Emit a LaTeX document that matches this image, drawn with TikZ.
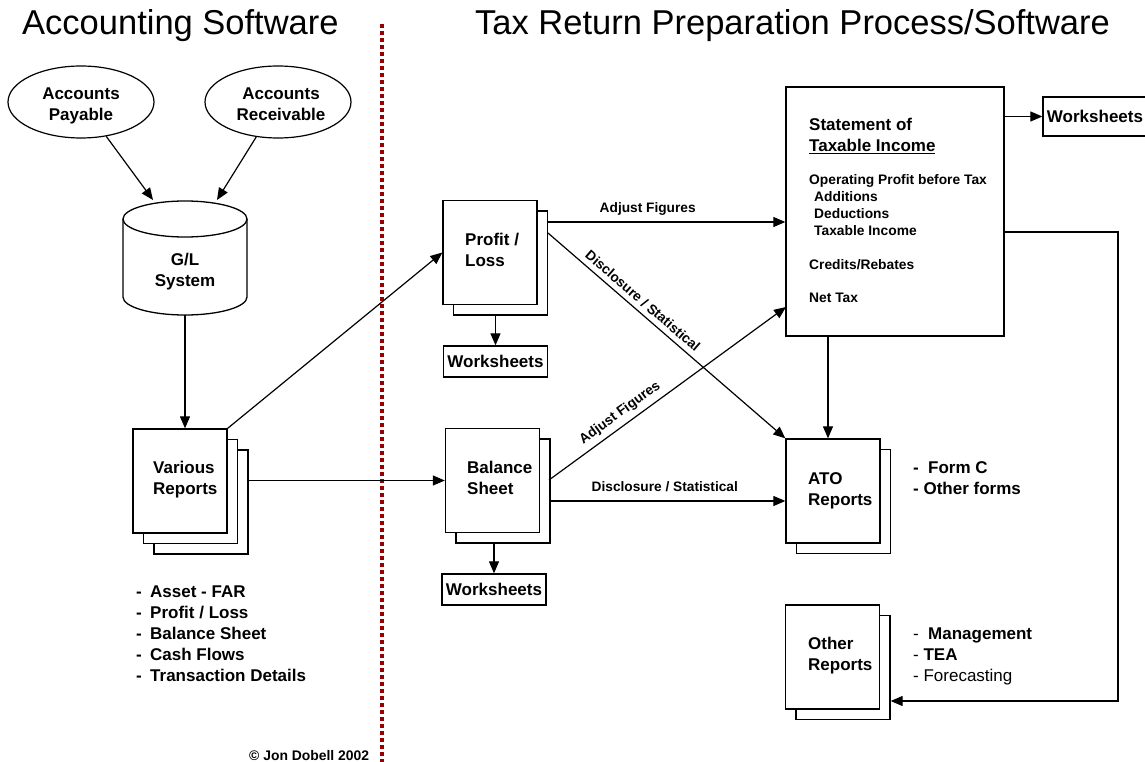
\documentclass[tikz,border=0pt]{standalone}
\usepackage{fontspec}
\setmainfont{Liberation Sans}
\usetikzlibrary{arrows.meta,shapes.geometric}
\definecolor{divred}{RGB}{150,0,0}
\begin{document}
\begin{tikzpicture}[x=1pt,y=-1pt,
  every node/.style={inner sep=0pt},
  page/.style={draw, fill=white, line width=1.3pt, minimum width=94pt, minimum height=104pt},
  wsbox/.style={draw, fill=white, line width=1.3pt, minimum width=104pt, minimum height=31pt, font=\fontsize{17}{20}\selectfont\bfseries},
  conn/.style={line width=1.2pt},
  arr/.style={conn, -{Triangle[length=12pt,width=10pt]}},
  lbl/.style={font=\fontsize{13.7}{16}\selectfont\bfseries},
  ptxt/.style={font=\fontsize{17}{21}\selectfont\bfseries, align=left, anchor=base west},
  oval/.style={draw, ellipse, line width=1.2pt, minimum width=146pt, minimum height=72pt},
  title/.style={font=\fontsize{34.5}{40}\selectfont, anchor=base west},
]
\useasboundingbox (0,0) rectangle (1145,762);

% titles
\node[title] (t1) at (22,35) {Accounting Software};
\node[title] (t2) at (475,35) {Tax Return Preparation Process/Software};

% divider
\draw[line width=4.6pt, divred, dash pattern=on 4pt off 3pt] (382,24) -- (382,762);

% ellipses
\node[oval] (ap) at (81,102) {};
\node[oval] (ar) at (278,102) {};
\node[font=\fontsize{17}{21}\selectfont\bfseries, align=center, anchor=base] (apT) at (81,121) {Accounts\\Payable};
\node[font=\fontsize{17}{21}\selectfont\bfseries, align=center, anchor=base] (arT) at (281,121) {Accounts\\Receivable};

% cylinder
\draw[line width=1.3pt, fill=white] (123,219) -- (123,297) arc[start angle=180, end angle=360, x radius=62pt, y radius=18pt] -- (247,219);
\draw[line width=1.3pt, fill=white] (185,219) ellipse [x radius=62pt, y radius=18pt];
\node[font=\fontsize{17}{21}\selectfont\bfseries, align=center, anchor=base] (gl) at (185,286) {G/L\\System};
\coordinate (glA) at (153,200);
\coordinate (glB) at (217,200);
\coordinate (glbot) at (185,315);

% various reports
\node[page] (vr3) at (201,502) {};
\node[page] (vr2) at (190.5,491.5) {};
\node[page] (vr1) at (180,481) {};
\node[ptxt] (vrT) at (153,494) {Various\\Reports};

\node[ptxt] (vrL) at (136,681) {\makebox[14pt][l]{-}Asset - FAR\\\makebox[14pt][l]{-}Profit / Loss\\\makebox[14pt][l]{-}Balance Sheet\\\makebox[14pt][l]{-}Cash Flows\\\makebox[14pt][l]{-}Transaction Details};
\node[anchor=base west, font=\fontsize{13.9}{16}\selectfont\bfseries] (cr) at (249,760) {© Jon Dobell 2002};

% profit / loss
\node[page] (plb) at (500.5,263) {};
\node[page] (pl) at (490,252.5) {};
\node[ptxt] (plT) at (465,266) {Profit /\\Loss};
\node[wsbox] (ws1) at (495.5,361.5) {Worksheets};

% balance sheet
\node[page] (bsb) at (503,491) {};
\node[page] (bs) at (492.5,480.5) {};
\node[ptxt] (bsT) at (467,494) {Balance\\Sheet};
\node[wsbox] (ws2) at (494,589.5) {Worksheets};

% statement
\node[draw, fill=white, line width=1.3pt, minimum width=218pt, minimum height=249pt] (stmt) at (895,211.5) {};
\node[ptxt] (stT) at (809,152) {Statement of\\\underline{Taxable Income}};
\node[font=\fontsize{13.8}{16.7}\selectfont\bfseries, align=left, anchor=base west] (stL) at (809,302)
  {Operating Profit before Tax\\\hspace*{5pt}Additions\\\hspace*{5pt}Deductions\\\hspace*{5pt}Taxable Income\\[17.3pt]Credits/Rebates\\[16.3pt]Net Tax};
\node[wsbox, minimum height=39pt] (ws3) at (1095,116.5) {Worksheets};

% ATO reports
\node[page] (atob) at (843.5,501.5) {};
\node[page] (ato) at (833,491) {};
\node[ptxt] (atoT) at (808,505) {ATO\\Reports};
\node[ptxt] (atoL) at (913,494) {\makebox[15pt][l]{-}Form C\\- Other forms};

% other reports
\node[page] (orb) at (843,667.5) {};
\node[page] (or) at (832.5,657) {};
\node[ptxt] (orT) at (808,670) {Other\\Reports};
\node[ptxt] (orL) at (913,681) {\makebox[15pt][l]{\mdseries -}Management\\{\mdseries - }TEA\\{\mdseries - Forecasting}};

% connectors
\draw[arr] (ap) -- (glA);
\draw[arr] (ar) -- (glB);
\draw[arr] (glbot) -- (glbot |- vr1.north);
\draw[arr] (vr1.north east) -- (pl.west);
\draw[arr] (vr3.east |- bs.west) -- (bs.west);
\draw[arr] (ws1.north |- plb.south) -- (ws1.north);
\draw[arr] (ws2.north |- bsb.south) -- (ws2.north);

\coordinate (plA) at (548,222);
\coordinate (plD) at (548,233);
\coordinate (bsA) at (549,480);
\coordinate (bsD) at (549,501);
\coordinate (stIn) at (786,307);
\coordinate (stDown) at (828,336);

\draw[arr] (plA) -- node[lbl, above=6pt, pos=0.42] (l1) {Adjust Figures} (stmt.west |- plA);
\draw[arr] (plD) -- node[lbl, sloped, above=5pt, pos=0.37] (l2) {Disclosure / Statistical} (ato.north west);
\draw[arr] (bsA) -- node[lbl, sloped, above=5pt, pos=0.33] (l3) {Adjust Figures} (stIn);
\draw[arr] (bsD) -- node[lbl, above=9pt, pos=0.49] (l4) {Disclosure / Statistical} (ato.west |- bsD);

\draw[arr] (stmt.east |- ws3.west) -- (ws3.west);
\draw[arr] (stDown) -- (stDown |- ato.north);

\coordinate (fb0) at (1004,232);
\coordinate (fb1) at (1118,232);
\coordinate (fb2) at (1118,701);
\draw[arr] (fb0) -- (fb1) -- (fb2) -- (orb.east |- fb2);
\end{tikzpicture}
\end{document}
